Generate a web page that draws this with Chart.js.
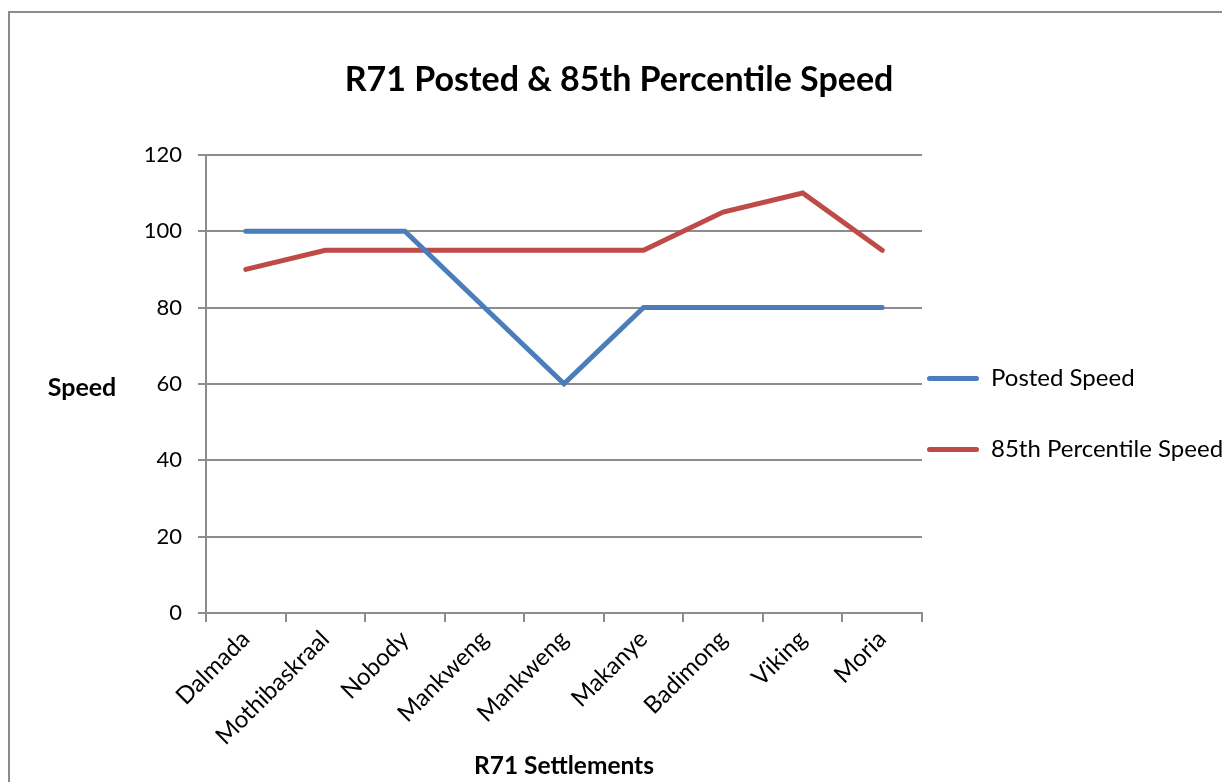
<!DOCTYPE html>
<html>
<head>
<meta charset="utf-8">
<title>R71 Posted & 85th Percentile Speed</title>
<script src="https://cdn.jsdelivr.net/npm/chart.js@4.4.1/dist/chart.umd.min.js"></script>
<style>
  html, body { margin: 0; padding: 0; background: #fff; }
  #frame { position: absolute; left: 8px; top: 11px; width: 1240px; height: 800px; border: 2px solid #8c8c8c; box-sizing: border-box; }
  #wrap { position: absolute; left: 0; top: 0; width: 1222px; height: 782px; }
</style>
</head>
<body>
<div id="frame"></div>
<div id="wrap"><canvas id="grafico"></canvas></div>
<script>
// settlements along the R71 and the speeds measured there
var assentamentos = ["Dalmada", "Mothibaskraal", "Nobody", "Mankweng", "Mankweng", "Makanye", "Badimong", "Viking", "Moria"];
var velPostada = [100, 100, 100, 80, 60, 80, 80, 80, 80];
var vel85 = [90, 95, 95, 95, 95, 95, 105, 110, 95];
var nomesSeries = ["Posted Speed", "85th Percentile Speed"];
var coresSeries = ["#4a7ebb", "#be4b48"];
var ticksY = [0, 20, 40, 60, 80, 100, 120];

var fonte = "Lato, 'Open Sans', sans-serif";
var cinza = "#8c8c8c";

// y axis caption is written flat, not rotated
var tituloY = {
    id: "tituloY",
    afterDraw: function(chart){
        var ctx = chart.ctx;
        var area = chart.chartArea;
        ctx.save();
        ctx.font = "bold 25px " + fonte;
        ctx.fillStyle = "#000";
        ctx.textAlign = "center";
        ctx.textBaseline = "middle";
        ctx.fillText("Speed", chart.scales.y.left + 66, (area.top + area.bottom) / 2 + 4);
        ctx.restore();
    }
};

var ctx = document.getElementById("grafico").getContext("2d");
var grafico = new Chart(ctx, {
    type: "line",
    data: {
        labels: assentamentos,
        datasets: [{
            label: nomesSeries[0],
            data: velPostada,
            borderColor: coresSeries[0],
            backgroundColor: coresSeries[0]
        }, {
            label: nomesSeries[1],
            data: vel85,
            borderColor: coresSeries[1],
            backgroundColor: coresSeries[1]
        }]
    },
    options: {
        responsive: true,
        maintainAspectRatio: false,
        animation: false,
        layout: { padding: { left: 16, right: 0, top: 58, bottom: 0 } },
        elements: {
            line: { borderWidth: 5, tension: 0, borderCapStyle: "round", borderJoinStyle: "miter", fill: false },
            point: { radius: 0, hoverRadius: 0 }
        },
        plugins: {
            title: {
                display: true,
                text: "R71 Posted & 85th Percentile Speed",
                color: "#000",
                font: { family: fonte, size: 34, weight: "bold", lineHeight: 1.2 },
                padding: { top: 2, bottom: 54 }
            },
            legend: {
                position: "right",
                fullSize: false,
                maxWidth: 300,
                title: { display: true, text: "", padding: { top: 101, bottom: 0 }, font: { size: 1, lineHeight: 1 } },
                labels: {
                    color: "#000",
                    font: { family: fonte, size: 24, lineHeight: "66px" },
                    boxWidth: 52,
                    boxHeight: 5,
                    padding: 5,
                    useBorderRadius: true,
                    borderRadius: 2.5,
                    generateLabels: function(chart){
                        return chart.data.datasets.map(function(ds, i){
                            return {
                                text: [ds.label],
                                fillStyle: ds.borderColor,
                                strokeStyle: ds.borderColor,
                                lineWidth: 0,
                                borderRadius: 2.5,
                                fontColor: "#000",
                                hidden: false,
                                datasetIndex: i
                            };
                        });
                    }
                }
            },
            tooltip: { enabled: false }
        },
        scales: {
            x: {
                offset: true,
                grid: { offset: true, drawOnChartArea: false, drawTicks: true, tickLength: 9, color: cinza, lineWidth: 2 },
                border: { display: true, color: cinza, width: 2 },
                ticks: { color: "#000", font: { family: fonte, size: 24 }, minRotation: 45, maxRotation: 45, padding: 3, autoSkip: false },
                title: { display: true, text: "R71 Settlements", color: "#000", font: { family: fonte, size: 24.5, weight: "bold", lineHeight: 1.2 }, padding: { top: 0, bottom: 1 } },
                afterFit: function(s){ s.height = 169; }
            },
            y: {
                min: ticksY[0],
                max: ticksY[ticksY.length - 1],
                grid: { color: cinza, lineWidth: 2, tickLength: 8 },
                border: { display: true, color: cinza, width: 2 },
                ticks: { stepSize: 20, color: "#000", font: { family: fonte, size: 22 }, padding: 16 },
                afterFit: function(s){ s.width = 190; }
            }
        }
    },
    plugins: [tituloY]
});
</script>
</body>
</html>
